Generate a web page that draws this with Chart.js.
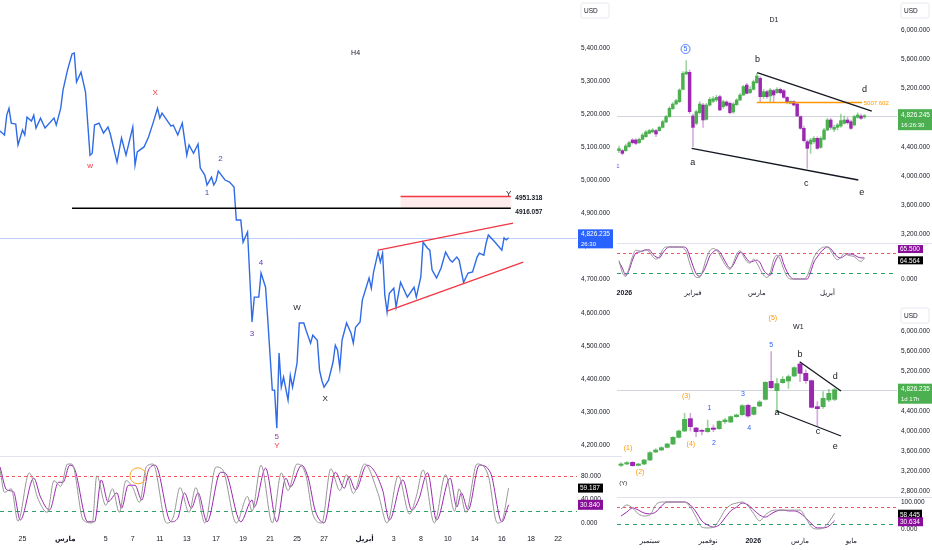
<!DOCTYPE html>
<html>
<head>
<meta charset="utf-8">
<script src="https://cdn.jsdelivr.net/npm/chart.js@4.4.1/dist/chart.umd.min.js"></script>
<style>
  html, body { margin: 0; padding: 0; background: #fff; }
  #wrap { position: relative; width: 932px; height: 550px; overflow: hidden; background: #fff; }
  canvas { position: absolute; }
</style>
</head>
<body>
<div id="wrap">
  <canvas id="h4Price" width="622" height="456" style="left:0px;top:0px"></canvas>
  <canvas id="h4Osc" width="622" height="94" style="left:0px;top:456px"></canvas>
  <canvas id="d1Price" width="318" height="243" style="left:614px;top:0px"></canvas>
  <canvas id="d1Osc" width="318" height="60" style="left:614px;top:243px"></canvas>
  <canvas id="w1Price" width="318" height="194" style="left:614px;top:303px"></canvas>
  <canvas id="w1Osc" width="318" height="53" style="left:614px;top:497px"></canvas>
</div>
<script>
// ---- H4 close (bar number, price) ----
const h4Bars = [
  0, 1, 2, 3, 4, 5, 7, 8, 10, 11,
  12, 14, 15, 16, 18, 20, 24, 25, 27, 28,
  30, 32, 33, 34, 36, 38, 40, 41, 42, 44,
  46, 48, 49, 52, 54, 56, 59, 60, 61, 64,
  66, 68, 70, 71, 72, 76, 77, 79, 81, 83,
  84, 86, 88, 89, 91, 92, 94, 95, 96, 97,
  100, 102, 104, 105, 107, 108, 110, 112, 113, 115,
  116, 118, 119, 121, 122, 123, 124, 125, 126, 128,
  129, 130, 132, 133, 135, 136, 138, 139, 141, 142,
  143, 144, 146, 148, 149, 150, 151, 152, 154, 156,
  157, 158, 160, 161, 164, 165, 166, 168, 169, 170,
  171, 172, 173, 175, 176, 178, 181, 184, 185, 187,
  188, 190, 191, 192, 194, 196, 198, 200, 201, 203,
  204, 206, 208, 210, 212, 213, 215, 216, 217, 220,
  223, 224, 225, 226,
];
const h4Close = [
  5149, 5143, 5137, 5197, 5218, 5173, 5170, 5107, 5152, 5137,
  5191, 5179, 5197, 5158, 5188, 5158, 5188, 5167, 5218, 5273,
  5333, 5382, 5385, 5297, 5327, 5267, 5076, 5082, 5167, 5173,
  5143, 5161, 5140, 5055, 5128, 5076, 5161, 5046, 5086, 5101,
  5131, 5173, 5218, 5188, 5203, 5164, 5167, 5137, 5173, 5076,
  5107, 5082, 5110, 5037, 5016, 4986, 5010, 4986, 4998, 5028,
  5001, 4995, 4980, 4880, 4880, 4813, 4844, 4572, 4647, 4647,
  4720, 4677, 4578, 4366, 4366, 4251, 4478, 4375, 4405, 4336,
  4411, 4375, 4448, 4569, 4569, 4547, 4508, 4532, 4517, 4426,
  4396, 4375, 4396, 4451, 4502, 4487, 4433, 4517, 4569, 4538,
  4508, 4556, 4572, 4638, 4705, 4674, 4723, 4783, 4753, 4780,
  4653, 4602, 4659, 4674, 4617, 4692, 4647, 4677, 4647, 4708,
  4813, 4795, 4789, 4729, 4705, 4735, 4783, 4759, 4753, 4768,
  4759, 4692, 4720, 4723, 4768, 4780, 4774, 4810, 4835, 4813,
  4789, 4826, 4820, 4826.235,
];

// ---- H4 stochastic ----
const h4KBars = [0, 2, 5, 8, 13, 17, 21, 24, 27, 30, 32, 37, 41, 43, 47, 50, 53, 56, 59, 62, 65, 68, 74, 77, 80, 84, 87, 91, 96, 99, 105, 110, 112, 116, 121, 125, 128, 132, 136, 139, 143, 147, 151, 154, 157, 162, 168, 172, 177, 182, 185, 188, 193, 198, 202, 204, 207, 212, 217, 221, 223, 226];
const h4K = [90, 52, 58, 3, 85, 40, 18, 72, 62, 100, 100, 5, 0, 80, 30, 58, 18, 72, 60, 35, 95, 100, 0, 10, 60, 18, 60, 0, 95, 90, 0, 45, 20, 98, 0, 85, 55, 100, 80, 15, 0, 92, 55, 82, 50, 100, 50, 0, 80, 15, 45, 90, 0, 82, 20, 58, 18, 100, 80, 0, 3, 59.187];
const h4DBars = [0, 3, 6, 9, 15, 18, 22, 26, 28, 31, 33, 39, 42, 45, 48, 52, 54, 57, 60, 63, 66, 69, 76, 79, 82, 85, 88, 92, 98, 100, 107, 112, 113, 118, 123, 127, 129, 134, 137, 140, 144, 149, 153, 155, 158, 163, 170, 173, 179, 183, 186, 190, 194, 200, 203, 205, 208, 213, 218, 223, 226];
const h4D = [95, 56, 53, 5, 76, 44, 22, 69, 69, 98, 93, 2, 2, 73, 36, 51, 25, 64, 64, 39, 90, 98, 2, 8, 51, 25, 51, 2, 86, 85, 2, 39, 27, 93, 2, 76, 61, 98, 76, 22, 0, 86, 59, 78, 56, 98, 56, 5, 73, 22, 39, 85, 5, 76, 27, 51, 22, 98, 85, 2, 30.84];

const h4TickBars = [10, 29, 47, 59, 71, 83, 96, 108, 120, 132, 144, 162, 175, 187, 199, 211, 223, 236, 248];
const h4TickLabels = ["25", "مارس", "5", "7", "11", "13", "17", "19", "21", "25", "27", "أبريل", "3", "8", "10", "14", "16", "18", "22"];
const h4PriceTicks = [4200, 4300, 4400, 4500, 4600, 4700, 4800, 4900, 5000, 5100, 5200, 5300, 5400];

// wave labels [text, bar, price, colour]
const h4Waves = [
  ["w", 40, 5043, "#f23645"], ["X", 69, 5264, "#f23645"],
  ["1", 92, 4962, "#3f51b5"], ["2", 98, 5064, "#3f51b5"],
  ["3", 112, 4535, "#5e35b1"], ["4", 116, 4750, "#5e35b1"],
  ["5", 123, 4224, "#8e44ad"], ["Y", 123, 4197, "#f23645"],
  ["W", 132, 4616, "#131722"], ["X", 144.5, 4339, "#131722"],
  ["Y", 226, 4958, "#131722"],
];

// ---- D1 candles ----
const d1Open = [4347, 4347, 4347, 4402, 4493, 4493, 4456, 4502, 4539, 4584, 4603, 4621, 4621, 4666, 4740, 4813, 4922, 4986, 5018, 5187, 5397, 5420, 4822, 4721, 4867, 4972, 4776, 4972, 5023, 5041, 5087, 4950, 5014, 4995, 4877, 4977, 5041, 5109, 5246, 5141, 5187, 5278, 5338, 5087, 5155, 5096, 5169, 5141, 5187, 5169, 5077, 4995, 5018, 4986, 4813, 4653, 4470, 4438, 4470, 4516, 4392, 4502, 4630, 4767, 4639, 4666, 4685, 4721, 4767, 4744, 4699, 4803, 4822, 4808];
const d1High = [4411, 4365, 4438, 4475, 4511, 4511, 4520, 4584, 4621, 4639, 4648, 4639, 4685, 4767, 4831, 4950, 5004, 5050, 5196, 5429, 5580, 5452, 4849, 4904, 5018, 4995, 4995, 5077, 5087, 5105, 5109, 5041, 5032, 5014, 5004, 5059, 5132, 5242, 5269, 5224, 5315, 5406, 5361, 5187, 5178, 5201, 5187, 5210, 5205, 5187, 5087, 5032, 5032, 5004, 4822, 4685, 4493, 4516, 4539, 4539, 4539, 4653, 4790, 4790, 4699, 4721, 4849, 4822, 4803, 4767, 4831, 4867, 4849, 4840];
const d1Low = [4319, 4292, 4338, 4392, 4438, 4429, 4447, 4493, 4530, 4575, 4593, 4539, 4612, 4657, 4730, 4803, 4913, 4977, 5004, 5178, 5388, 4858, 4402, 4699, 4849, 4666, 4767, 4959, 5004, 5018, 4895, 4927, 4950, 4849, 4858, 4968, 5032, 5105, 5123, 5132, 5178, 5269, 5004, 5064, 5064, 5018, 5018, 5132, 5123, 5064, 4986, 4986, 4959, 4813, 4640, 4466, 4105, 4310, 4447, 4365, 4379, 4493, 4621, 4639, 4607, 4630, 4666, 4712, 4712, 4639, 4685, 4790, 4776, 4790];
const d1Close = [4374, 4310, 4411, 4456, 4456, 4447, 4502, 4561, 4603, 4621, 4630, 4575, 4666, 4744, 4813, 4927, 4986, 5032, 5178, 5406, 5425, 4881, 4666, 4881, 4986, 4767, 4972, 5050, 5059, 5077, 4904, 5018, 4968, 4867, 4986, 5041, 5109, 5224, 5132, 5187, 5292, 5370, 5087, 5155, 5087, 5178, 5109, 5187, 5141, 5077, 5004, 5023, 4972, 4822, 4653, 4484, 4379, 4493, 4516, 4379, 4516, 4630, 4767, 4666, 4666, 4699, 4758, 4767, 4730, 4653, 4813, 4836, 4790, 4826.245];
const d1K = [58, 20, 8, 35, 70, 90, 88, 86, 92, 85, 70, 62, 70, 92, 100, 100, 100, 100, 100, 98, 85, 50, 20, 5, 5, 30, 65, 88, 95, 90, 75, 55, 38, 30, 50, 78, 88, 72, 55, 50, 62, 50, 30, 12, 5, 20, 60, 75, 60, 30, 8, 0, 0, 0, 0, 0, 10, 38, 68, 85, 95, 100, 100, 88, 70, 60, 68, 80, 75, 72, 70, 60, 55, 64.564];
const d1D = [53, 34, 12, 28, 59, 81, 84, 88, 91, 91, 78, 69, 66, 81, 94, 100, 100, 100, 100, 100, 97, 72, 41, 16, 9, 22, 44, 72, 84, 91, 84, 66, 47, 34, 44, 66, 84, 78, 63, 53, 56, 59, 50, 28, 16, 12, 41, 66, 75, 47, 22, 6, 0, 0, 0, 0, 0, 22, 53, 69, 84, 94, 100, 94, 81, 69, 66, 72, 78, 78, 75, 69, 66, 65.5];
const d1TickIdx = [1.6, 22, 41, 62];
const d1TickLabels = ["2026", "فبراير", "مارس", "أبريل"];
const d1PriceTicks = [3200, 3600, 4000, 4400, 4800, 5200, 5600, 6000];
const d1Waves = [["b", 41.2, 5599], ["a", 21.9, 4182], ["c", 55.7, 3900], ["d", 73, 5188], ["e", 72.2, 3771]];

// ---- W1 candles ----
const w1Open = [3313, 3340, 3373, 3313, 3340, 3420, 3580, 3620, 3673, 3740, 3873, 4000, 4247, 4060, 4007, 3987, 4060, 4047, 4187, 4180, 4287, 4327, 4513, 4333, 4500, 4633, 4993, 4807, 4967, 5000, 5100, 5340, 5153, 5007, 4487, 4487, 4620, 4633];
const w1High = [3367, 3387, 3387, 3353, 3433, 3587, 3647, 3687, 3753, 3887, 4020, 4353, 4353, 4073, 4033, 4220, 4120, 4207, 4253, 4300, 4340, 4527, 4540, 4487, 4607, 4987, 5587, 5053, 5087, 5120, 5287, 5387, 5220, 5020, 4587, 4787, 4833, 4853];
const w1Low = [3287, 3327, 3293, 3300, 3327, 3407, 3567, 3607, 3660, 3727, 3860, 3987, 4000, 3887, 3920, 3973, 3987, 4033, 4153, 4167, 4273, 4313, 4273, 4320, 4487, 4620, 4847, 4367, 4953, 4853, 5087, 4987, 4953, 4460, 4087, 4453, 4587, 4607];
const w1Close = [3340, 3367, 3307, 3340, 3420, 3567, 3620, 3667, 3740, 3873, 4000, 4233, 4087, 3987, 3993, 4053, 4033, 4193, 4220, 4287, 4320, 4507, 4300, 4473, 4580, 4973, 4867, 4947, 5033, 5087, 5267, 5153, 5007, 4473, 4447, 4653, 4753, 4826.235];
const w1K = [74, 89, 78, 56, 48, 52, 89, 100, 100, 100, 100, 100, 81, 44, 7, 4, 7, 33, 70, 89, 96, 100, 85, 56, 30, 52, 67, 70, 70, 70, 70, 70, 41, 7, 0, 4, 26, 58.445];
const w1D = [48, 63, 78, 70, 59, 56, 63, 85, 100, 100, 100, 100, 89, 63, 30, 15, 7, 15, 41, 67, 81, 96, 89, 70, 52, 44, 56, 67, 70, 67, 67, 59, 41, 19, 4, 4, 11, 30.634];
const w1TickIdx = [5, 15.1, 22.9, 31, 39.9];
const w1TickLabels = ["سبتمبر", "نوفمبر", "2026", "مارس", "مايو"];
const w1PriceTicks = [2800, 3200, 3600, 4000, 4400, 4800, 5200, 5600, 6000];
const w1Waves = [
  ["(5)", 26.3, 6260, "#ff9800", 7], ["5", 26, 5720, "#2962ff", 7], ["3", 21.1, 4740, "#2962ff", 7],
  ["4", 22.2, 4060, "#2962ff", 7], ["1", 15.3, 4460, "#2962ff", 7], ["2", 16.1, 3760, "#2962ff", 7],
  ["(3)", 11.3, 4700, "#ff9800", 7], ["(4)", 12.1, 3740, "#ff9800", 7], ["(1)", 1.2, 3660, "#ff9800", 7],
  ["(2)", 3.3, 3180, "#ff9800", 7], ["b", 31, 5520, "#131722", 9], ["d", 37.1, 5080, "#131722", 9],
  ["a", 27, 4360, "#131722", 9], ["c", 34.1, 3980, "#131722", 9], ["e", 37.1, 3680, "#131722", 9],
  ["(Y)", 0.4, 2960, "#131722", 6],
];

const FONT = '"Liberation Sans", "DejaVu Sans", Arial, sans-serif';
const GREEN = "#4caf50", PURPLE = "#9c27b0", RED = "#f23645", GRAYK = "#969696";
Chart.defaults.font.family = FONT;
Chart.defaults.color = "#131722";
Chart.defaults.animation = false;

function fmt(v) {
  return v.toLocaleString("en-US", { minimumFractionDigits: 3, maximumFractionDigits: 3 });
}

function xy(c, x, y) {
  return [c.scales.x.getPixelForValue(x), c.scales.y.getPixelForValue(y)];
}

function seg(c, x0, y0, x1, y1, color, w, dash) {
  const ctx = c.ctx, a = xy(c, x0, y0), b = xy(c, x1, y1);
  ctx.save();
  ctx.strokeStyle = color;
  ctx.lineWidth = w;
  ctx.setLineDash(dash || []);
  ctx.beginPath();
  ctx.moveTo(a[0], a[1]);
  ctx.lineTo(b[0], b[1]);
  ctx.stroke();
  ctx.restore();
}

// full width horizontal level
function level(c, v, color, w, dash) {
  const ca = c.chartArea;
  const y = Math.round(c.scales.y.getPixelForValue(v)) + 0.5;
  const ctx = c.ctx;
  ctx.save();
  ctx.strokeStyle = color;
  ctx.lineWidth = w;
  ctx.setLineDash(dash || []);
  ctx.beginPath();
  ctx.moveTo(ca.left, y);
  ctx.lineTo(ca.right, y);
  ctx.stroke();
  ctx.restore();
}

function txt(c, s, x, y, color, size, weight, align) {
  const ctx = c.ctx, p = xy(c, x, y);
  ctx.save();
  ctx.font = (weight || "normal") + " " + size + "px " + FONT;
  ctx.fillStyle = color;
  ctx.textAlign = align || "center";
  ctx.textBaseline = "middle";
  ctx.fillText(s, p[0], p[1]);
  ctx.restore();
}

// coloured value box on the price axis
function tag(c, v, lines, bg, w, h, dy) {
  const ctx = c.ctx, ca = c.chartArea;
  const y = c.scales.y.getPixelForValue(v) + (dy || 0);
  const x = ca.right + 1;
  ctx.save();
  ctx.fillStyle = bg;
  ctx.fillRect(x, y - h / 2, w, h);
  ctx.fillStyle = "#fff";
  ctx.textBaseline = "middle";
  ctx.textAlign = "left";
  if (lines.length === 1) {
    ctx.font = "6.5px " + FONT;
    ctx.fillText(lines[0], x + 2, y + 0.5);
  } else {
    ctx.font = "6.5px " + FONT;
    ctx.fillText(lines[0], x + 3, y - h / 4 + 0.5);
    ctx.font = "6px " + FONT;
    ctx.fillText(lines[1], x + 3, y + h / 4 + 0.5);
  }
  ctx.restore();
}

function usd(c, x, y) {
  const ctx = c.ctx;
  ctx.save();
  ctx.strokeStyle = "#e6e8ee";
  ctx.fillStyle = "#fff";
  ctx.beginPath();
  ctx.roundRect(x, y, 28, 15, 2);
  ctx.fill();
  ctx.stroke();
  ctx.fillStyle = "#131722";
  ctx.font = "6.5px " + FONT;
  ctx.textBaseline = "middle";
  ctx.fillText("USD", x + 3, y + 8);
  ctx.restore();
}

function topLine(c, x0, x1) {
  const ctx = c.ctx;
  ctx.save();
  ctx.strokeStyle = "#e0e3eb";
  ctx.lineWidth = 1;
  ctx.beginPath();
  ctx.moveTo(x0, 0.5);
  ctx.lineTo(x1, 0.5);
  ctx.stroke();
  ctx.restore();
}

function makePanel(id, p) {
  return new Chart(document.getElementById(id), {
    type: p.type || "line",
    data: { datasets: p.datasets },
    options: {
      responsive: false,
      devicePixelRatio: 1,
      layout: { padding: { left: p.padLeft || 0, top: 0, right: 0, bottom: 0 } },
      plugins: { legend: { display: false }, tooltip: { enabled: false } },
      elements: { point: { radius: 0 } },
      scales: {
        x: {
          type: "linear",
          min: p.xMin,
          max: p.xMax,
          offset: false,
          display: !!p.xTicks,
          grid: { display: false, drawTicks: false },
          border: { display: false },
          afterBuildTicks: (s) => {
            if (p.xTicks) s.ticks = p.xTicks.map((v) => ({ value: v }));
          },
          afterFit: (s) => {
            s.height = p.xAxisH || 0;
            s.paddingLeft = 0;
            s.paddingRight = 0;
          },
          ticks: {
            autoSkip: false,
            maxRotation: 0,
            padding: p.xPad || 3,
            color: "#131722",
            font: (ctx) => ({ size: 7, weight: (p.xBold || []).includes(ctx.index) ? "bold" : "normal" }),
            callback: (v, i) => (p.xLabels ? p.xLabels[i] : ""),
          },
        },
        y: {
          position: "right",
          min: p.yMin,
          max: p.yMax,
          grid: { display: false, drawTicks: false },
          border: { display: false },
          afterBuildTicks: (s) => {
            s.ticks = p.yTicks.map((v) => ({ value: v }));
          },
          afterFit: (s) => {
            s.width = p.axisW;
            s.paddingTop = 0;
            s.paddingBottom = 0;
          },
          ticks: { padding: 4, color: "#131722", font: { size: 6.5 }, callback: (v) => fmt(v) },
        },
      },
    },
    plugins: [
      {
        id: "marks",
        beforeDatasetsDraw: (c) => p.under && p.under(c),
        afterDraw: (c) => p.draw && p.draw(c),
      },
    ],
  });
}

function candleSets(open, high, low, close, body, wick) {
  const up = close.map((v, i) => v >= open[i]);
  return [
    {
      type: "bar",
      data: close.map((v, i) => ({ x: i, y: [Math.min(v, open[i]), Math.max(v, open[i])] })),
      backgroundColor: up.map((u) => (u ? GREEN : PURPLE)),
      barThickness: body,
      minBarLength: 1,
      grouped: false,
      order: 1,
    },
    {
      type: "bar",
      data: low.map((v, i) => ({ x: i, y: [v, high[i]] })),
      backgroundColor: up.map((u) => (u ? "rgba(76,175,80,0.55)" : "rgba(156,39,176,0.4)")),
      barThickness: wick,
      grouped: false,
      order: 2,
    },
  ];
}

function stochSets(kx, k, dx, d) {
  return [
    {
      data: kx.map((x, i) => ({ x: x, y: k[i] })),
      borderColor: GRAYK,
      borderWidth: 1,
      cubicInterpolationMode: "monotone",
    },
    {
      data: dx.map((x, i) => ({ x: x, y: d[i] })),
      borderColor: PURPLE,
      borderWidth: 1,
      cubicInterpolationMode: "monotone",
    },
  ];
}

function stochLevels(c) {
  level(c, 80, "#f7525f", 1, [3, 3]);
  level(c, 20, "#2e9e6a", 1, [4, 4]);
}

// ---- H4 ----
makePanel("h4Price", {
  xMin: 0, xMax: 256.4, yMin: 4167, yMax: 5545, axisW: 45,
  yTicks: h4PriceTicks,
  datasets: [
    {
      data: h4Bars.map((b, i) => ({ x: b, y: h4Close[i] })),
      borderColor: "#2f6be6",
      borderWidth: 1.4,
      tension: 0,
    },
  ],
  under: (c) => level(c, 4826.235, "rgba(41,98,255,0.3)", 1),
  draw: (c) => {
    const ctx = c.ctx;
    const a = xy(c, 178, 4951.318), b = xy(c, 227, 4916.057);
    ctx.fillStyle = "rgba(242,54,69,0.10)";
    ctx.fillRect(a[0], a[1], b[0] - a[0], b[1] - a[1]);
    seg(c, 178, 4951.318, 227, 4951.318, RED, 1.5);
    seg(c, 32, 4916.057, 227, 4916.057, "#000", 1.5);
    seg(c, 168, 4789, 228, 4871, RED, 1.3);
    seg(c, 172, 4605, 232.5, 4753, RED, 1.3);
    txt(c, "4951.318", 229, 4947, "#131722", 6.5, "bold", "left");
    txt(c, "4916.057", 229, 4905, "#131722", 6.5, "bold", "left");
    h4Waves.forEach((w) => txt(c, w[0], w[1], w[2], w[3], 8));
    txt(c, "H4", 158, 5385, "#131722", 7);
    tag(c, 4826.235, ["4,826.235", "26:30"], "#2962ff", 35, 19, 1);
    usd(c, 581, 3);
  },
});

makePanel("h4Osc", {
  xMin: 0, xMax: 256.4, yMin: -11.9, yMax: 113.6, axisW: 45,
  yTicks: [0, 40, 80],
  xTicks: h4TickBars, xLabels: h4TickLabels, xBold: [1, 11], xAxisH: 20, xPad: 5,
  datasets: stochSets(h4KBars, h4K, h4DBars, h4D),
  under: (c) => {
    stochLevels(c);
    topLine(c, 0, 622);
  },
  draw: (c) => {
    const ctx = c.ctx, p = xy(c, 61.3, 80);
    ctx.save();
    ctx.strokeStyle = "#f5a623";
    ctx.lineWidth = 1;
    ctx.beginPath();
    ctx.arc(p[0], p[1], 8, 0, Math.PI * 2);
    ctx.stroke();
    ctx.restore();
    tag(c, 59.187, ["59.187"], "#000", 25, 9, 0);
    tag(c, 30.84, ["30.840"], "#880e9a", 25, 10, 0);
  },
});

// ---- D1 ----
makePanel("d1Price", {
  type: "bar",
  padLeft: 3, xMin: -0.6, xMax: 82.7, yMin: 3082, yMax: 6411, axisW: 35,
  yTicks: d1PriceTicks,
  datasets: candleSets(d1Open, d1High, d1Low, d1Close, 2.8, 0.9),
  under: (c) => level(c, 4826.245, "#d1d4dc", 1),
  draw: (c) => {
    const ctx = c.ctx;
    seg(c, 41, 5007.602, 72.3, 5007.602, "#ff9800", 1.5);
    txt(c, "5007.602", 72.8, 4993, "#ff9800", 6, "normal", "left");
    seg(c, 41.1, 5415, 75.2, 4890, "#131722", 1.3);
    seg(c, 21.6, 4379, 71.2, 3945, "#131722", 1.3);
    d1Waves.forEach((w) => txt(c, w[0], w[1], w[2], "#131722", 9));
    const p = xy(c, 19.8, 5740);
    ctx.save();
    ctx.strokeStyle = "#2962ff";
    ctx.lineWidth = 0.8;
    ctx.beginPath();
    ctx.arc(p[0], p[1], 4.5, 0, Math.PI * 2);
    ctx.stroke();
    ctx.restore();
    txt(c, "5", 19.8, 5740, "#2962ff", 7);
    txt(c, "1", -0.3, 4137, "#7e57c2", 6);
    txt(c, "D1", 46.1, 6137, "#131722", 7);
    tag(c, 4826.245, ["4,826.245", "16:26:30"], "#4caf50", 36, 21, 4);
    usd(c, 287, 3);
  },
});

makePanel("d1Osc", {
  padLeft: 3, xMin: -0.6, xMax: 82.7, yMin: -25, yMax: 112.5, axisW: 35,
  yTicks: [0],
  xTicks: d1TickIdx, xLabels: d1TickLabels, xBold: [0], xAxisH: 16, xPad: 2,
  datasets: stochSets(d1K.map((v, i) => i), d1K, d1D.map((v, i) => i), d1D),
  under: (c) => {
    stochLevels(c);
    topLine(c, 3, 318);
  },
  draw: (c) => {
    tag(c, 65.5, ["65.500"], "#880e9a", 25, 8, -9);
    tag(c, 64.564, ["64.564"], "#000", 25, 8, 2);
  },
});

// ---- W1 ----
makePanel("w1Price", {
  type: "bar",
  padLeft: 3, xMin: -0.7, xMax: 47.8, yMin: 2680, yMax: 6560, axisW: 35,
  yTicks: w1PriceTicks,
  datasets: candleSets(w1Open, w1High, w1Low, w1Close, 4.3, 1),
  under: (c) => level(c, 4826.235, "#d1d4dc", 1),
  draw: (c) => {
    seg(c, 31, 5380, 38.1, 4800, "#131722", 1.3);
    seg(c, 27, 4400, 38.1, 3900, "#131722", 1.3);
    w1Waves.forEach((w) => txt(c, w[0], w[1], w[2], w[3], w[4]));
    txt(c, "W1", 30.7, 6080, "#131722", 7);
    tag(c, 4826.235, ["4,826.235", "1d 17h"], "#4caf50", 36, 20, 4);
    usd(c, 287, 5);
  },
});

makePanel("w1Osc", {
  padLeft: 3, xMin: -0.7, xMax: 47.8, yMin: -14.8, yMax: 118.5, axisW: 35,
  yTicks: [0, 100],
  xTicks: w1TickIdx, xLabels: w1TickLabels, xBold: [2], xAxisH: 17, xPad: 4,
  datasets: stochSets(w1K.map((v, i) => i), w1K, w1D.map((v, i) => i), w1D),
  under: (c) => {
    stochLevels(c);
    topLine(c, 3, 318);
  },
  draw: (c) => {
    tag(c, 58.445, ["58.445"], "#000", 24, 9, 1);
    tag(c, 30.634, ["30.634"], "#880e9a", 25, 9, 1);
  },
});
</script>
</body>
</html>
